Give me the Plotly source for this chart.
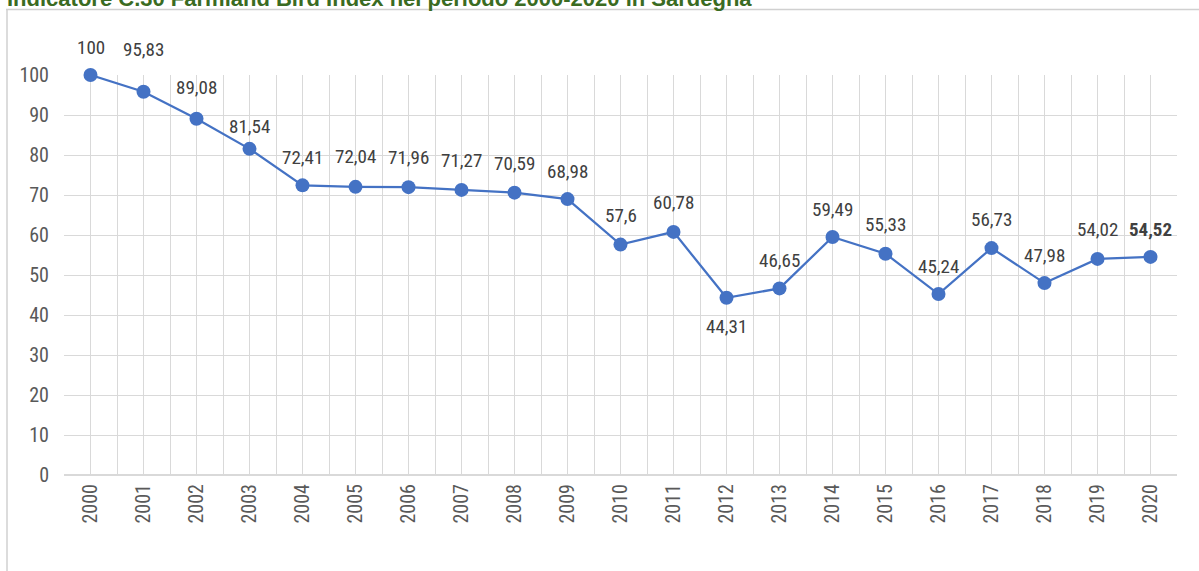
import plotly.graph_objects as go

years = list(range(2000, 2021))
values = [100, 95.83, 89.08, 81.54, 72.41, 72.04, 71.96, 71.27, 70.59, 68.98,
          57.6, 60.78, 44.31, 46.65, 59.49, 55.33, 45.24, 56.73, 47.98, 54.02, 54.52]
labels = ["100", "95,83", "89,08", "81,54", "72,41", "72,04", "71,96", "71,27", "70,59", "68,98",
          "57,6", "60,78", "44,31", "46,65", "59,49", "55,33", "45,24", "56,73", "47,98", "54,02", "54,52"]
title_text = "Indicatore C.30 Farmland Bird Index nel periodo 2000-2020 in Sardegna"

# label vertical offsets in px (style)
label_shift = [28, 42, 31, 22, 28, 30, 30, 29, 29, 28, 29, 29, -29, 28, 28, 29, 28, 29, 28, 29, 27]

W, H = 1199, 571
L, R, T, B = 64, 22, 75, 96
pw, ph = W - L - R, H - T - B

def px(x):
    return (x - L) / pw

def py(y):
    return (H - B - y) / ph

FONT = "Roboto Condensed, Arial Narrow, sans-serif"
TXT = "#404040"
BLUE = "#4472C4"
GRID = "#d9d9d9"

fig = go.Figure()
fig.add_trace(go.Scatter(
    x=years, y=values, mode="lines+markers",
    line=dict(color=BLUE, width=2.25),
    marker=dict(color=BLUE, size=14),
    cliponaxis=False, hoverinfo="skip", showlegend=False,
))

annotations = []
for i, (yr, v, lab) in enumerate(zip(years, values, labels)):
    bold = i == len(years) - 1
    annotations.append(dict(
        x=yr, y=v, xref="x", yref="y", text=f"<b>{lab}</b>" if bold else lab,
        showarrow=False, yshift=label_shift[i], xanchor="center", yanchor="middle",
        font=dict(family=FONT, size=19, color=TXT),
    ))

annotations.append(dict(
    x=px(5), y=py(13), xref="paper", yref="paper", text=f"<b>{title_text}</b>",
    showarrow=False, xanchor="left", yanchor="bottom",
    font=dict(family="Liberation Sans, Arial, sans-serif", size=22, color="#3a6b22"),
))

fig.update_layout(
    width=W, height=H,
    margin=dict(l=L, r=R, t=T, b=B, autoexpand=False),
    paper_bgcolor="white", plot_bgcolor="white",
    annotations=annotations,
    shapes=[
        dict(type="line", xref="paper", yref="paper", x0=px(6), x1=px(1199), y0=py(9.5), y1=py(9.5),
             line=dict(color="#d0d0d0", width=1.5)),
        dict(type="line", xref="paper", yref="paper", x0=px(7), x1=px(7), y0=py(9.5), y1=py(575),
             line=dict(color="#d0d0d0", width=1.5)),
    ],
    xaxis=dict(
        range=[1999.5, 2020.5], tickvals=years, ticktext=[str(y) for y in years],
        tickangle=-90, showgrid=True, gridcolor=GRID, gridwidth=1,
        minor=dict(tickvals=[y + 0.5 for y in [1999] + years], showgrid=True, gridcolor=GRID, gridwidth=1),
        showline=False, zeroline=False, ticks="",
        tickfont=dict(family=FONT, size=20, color="#595959"),
        ticklabelstandoff=4,
    ),
    yaxis=dict(
        range=[0, 100], dtick=10, showgrid=True, gridcolor=GRID, gridwidth=1,
        zeroline=True, zerolinecolor=GRID, zerolinewidth=2,
        showline=False, ticks="",
        tickfont=dict(family=FONT, size=20, color="#595959"),
        ticklabelstandoff=14,
    ),
)

fig.write_html("out.html", config={"displayModeBar": False},
               post_script="document.body.style.margin='0';document.body.style.overflow='hidden';")
